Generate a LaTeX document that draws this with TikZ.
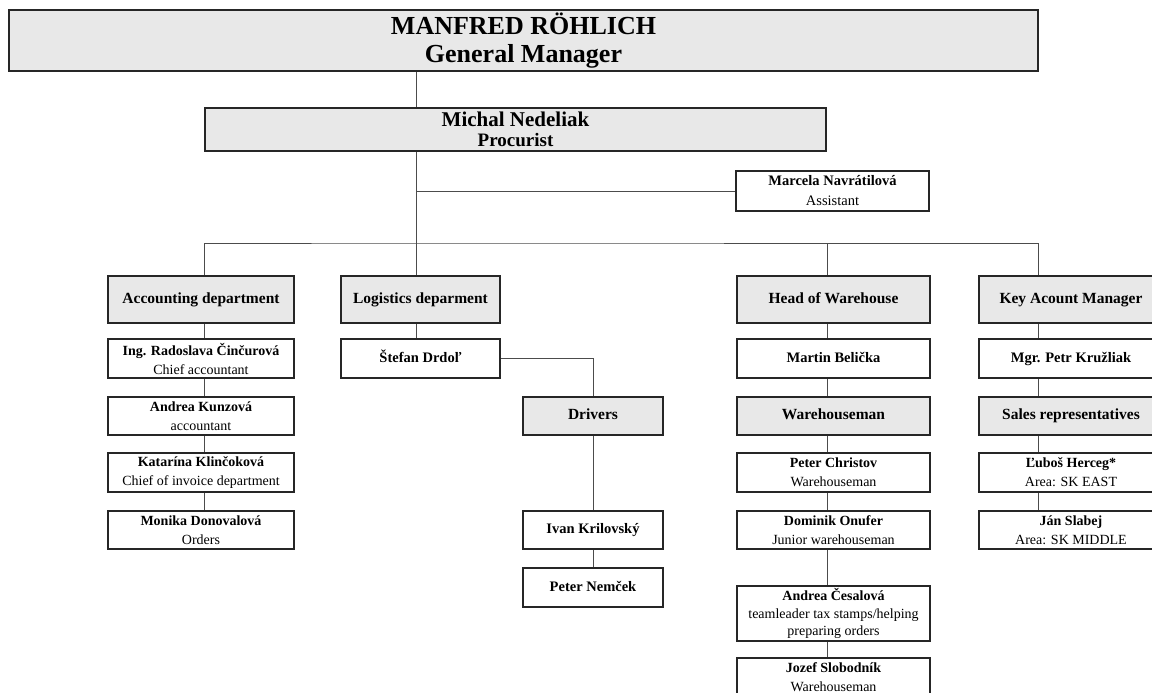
\documentclass[tikz,border=0pt]{standalone}
\usepackage{fontspec}
\setmainfont{Liberation Serif}
\begin{document}
\begin{tikzpicture}[x=1pt,y=-1pt,
  box/.style={draw=black!85, line width=1.8pt, fill=white, rectangle, inner sep=0pt,
    align=center, font=\fontsize{14}{19}\selectfont},
  gbox/.style={box, fill=black!9},
  oneline/.style={text height=10.5pt, text depth=3pt},
  deptbox/.style={gbox, oneline, minimum height=47pt, font=\fontsize{15.5}{19}\selectfont\bfseries},
  subbox/.style={gbox, oneline, font=\fontsize{15.5}{19}\selectfont\bfseries},
  nbox/.style={box, oneline, font=\fontsize{14.5}{19}\selectfont\bfseries},
  conn/.style={draw=black!70, line width=1pt}]
\useasboundingbox (0,0) rectangle (1152,693);
\clip (0,0) rectangle (1152,693);

% top
\node[gbox, minimum width=1029pt, minimum height=61pt, font=\fontsize{26}{28}\selectfont\bfseries] (gm) at (523.5,40.5) {MANFRED RÖHLICH\\General Manager};
\node[gbox, minimum width=621pt, minimum height=43pt, font=\fontsize{21}{19.5}\selectfont\bfseries] (mn) at (515.5,129.5) {Michal Nedeliak\\{\fontsize{19}{19.5}\selectfont Procurist}};
\node[box, minimum width=193pt, minimum height=40pt, font=\fontsize{14.5}{20}\selectfont] (asst) at (832.5,191) {\textbf{Marcela Navrátilová}\\Assistant};

% departments
\node[deptbox, minimum width=186pt] (acc) at (201,299.5) {Accounting department};
\node[deptbox, minimum width=159pt] (log) at (420.5,299.5) {Logistics deparment};
\node[deptbox, minimum width=193pt] (how) at (833.5,299.5) {Head of Warehouse};
\node[deptbox, minimum width=184pt] (kam) at (1071,299.5) {Key Acount Manager};

% accounting column
\node[box, minimum width=186pt, minimum height=39pt] (rad) at (201,358.5) {\textbf{Ing. Radoslava Činčurová}\\Chief accountant};
\node[box, minimum width=186pt, minimum height=38pt] (kun) at (201,416) {\textbf{Andrea Kunzová}\\accountant};
\node[box, minimum width=186pt, minimum height=39pt] (kli) at (201,472.5) {\textbf{Katarína Klinčoková}\\Chief of invoice department};
\node[box, minimum width=186pt, minimum height=38pt] (don) at (201,530) {\textbf{Monika Donovalová}\\Orders};

% logistics
\node[nbox, minimum width=159pt, minimum height=39pt] (ste) at (420.5,358.5) {Štefan Drdoľ};
\node[subbox, minimum width=140pt, minimum height=38pt] (drv) at (593,416) {Drivers};
\node[nbox, minimum width=140pt, minimum height=38pt] (ivan) at (593,530) {Ivan Krilovský};
\node[nbox, minimum width=140pt, minimum height=39pt] (nem) at (593,587.5) {Peter Nemček};

% warehouse
\node[nbox, minimum width=193pt, minimum height=39pt] (mbe) at (833.5,358.5) {Martin Belička};
\node[subbox, minimum width=193pt, minimum height=38pt] (wh) at (833.5,416) {Warehouseman};
\node[box, minimum width=193pt, minimum height=39pt] (pch) at (833.5,472.5) {\textbf{Peter Christov}\\Warehouseman};
\node[box, minimum width=193pt, minimum height=38pt] (dom) at (833.5,530) {\textbf{Dominik Onufer}\\Junior warehouseman};
\node[box, minimum width=193pt, minimum height=55pt, font=\fontsize{14}{17.5}\selectfont] (ces) at (833.5,613.5) {\textbf{Andrea Česalová}\\teamleader tax stamps/helping\\preparing orders};
\node[box, minimum width=193pt, minimum height=39pt] (jsl) at (833.5,677.5) {\textbf{Jozef Slobodník}\\Warehouseman};

% key account
\node[nbox, minimum width=184pt, minimum height=39pt] (pkr) at (1071,358.5) {Mgr. Petr Kružliak};
\node[subbox, minimum width=184pt, minimum height=38pt] (sal) at (1071,416) {Sales representatives};
\node[box, minimum width=184pt, minimum height=39pt] (lub) at (1071,472.5) {\textbf{Ľuboš Herceg*}\\Area: SK EAST};
\node[box, minimum width=184pt, minimum height=38pt] (jan) at (1071,530) {\textbf{Ján Slabej}\\Area: SK MIDDLE};

% connectors
\coordinate (bus) at (416,243);
\draw[conn] ([xshift=-107.5pt]gm.south) -- ([xshift=-99.5pt]mn.north);
\draw[conn] ([xshift=-99.5pt]mn.south) -- ([xshift=-4.5pt]log.north);
\draw[conn] ([xshift=-99.5pt]mn.south |- asst.west) -- (asst.west);
\draw[conn] ([xshift=3pt]acc.north) |- (bus) -| ([xshift=-33pt]kam.north);
\draw[conn] ([xshift=-6.5pt]how.north) -- ([xshift=-6.5pt]how.north |- bus);

\draw[conn] ([xshift=3pt]acc.south) -- ([xshift=3pt]rad.north);
\draw[conn] ([xshift=3pt]rad.south) -- ([xshift=3pt]kun.north);
\draw[conn] ([xshift=3pt]kun.south) -- ([xshift=3pt]kli.north);
\draw[conn] ([xshift=3pt]kli.south) -- ([xshift=3pt]don.north);

\draw[conn] ([xshift=-4.5pt]log.south) -- ([xshift=-4.5pt]ste.north);
\draw[conn] (ste.east) -| (drv.north);
\draw[conn] (drv.south) -- (ivan.north);
\draw[conn] (ivan.south) -- (nem.north);

\draw[conn] ([xshift=-6.5pt]how.south) -- ([xshift=-6.5pt]mbe.north);
\draw[conn] ([xshift=-6.5pt]mbe.south) -- ([xshift=-6.5pt]wh.north);
\draw[conn] ([xshift=-6.5pt]wh.south) -- ([xshift=-6.5pt]pch.north);
\draw[conn] ([xshift=-6.5pt]pch.south) -- ([xshift=-6.5pt]dom.north);
\draw[conn] ([xshift=-6.5pt]dom.south) -- ([xshift=-6.5pt]ces.north);
\draw[conn] ([xshift=-6.5pt]ces.south) -- ([xshift=-6.5pt]jsl.north);

\draw[conn] ([xshift=-33pt]kam.south) -- ([xshift=-33pt]pkr.north);
\draw[conn] ([xshift=-33pt]pkr.south) -- ([xshift=-33pt]sal.north);
\draw[conn] ([xshift=-33pt]sal.south) -- ([xshift=-33pt]lub.north);
\draw[conn] ([xshift=-33pt]lub.south) -- ([xshift=-33pt]jan.north);
\end{tikzpicture}
\end{document}
